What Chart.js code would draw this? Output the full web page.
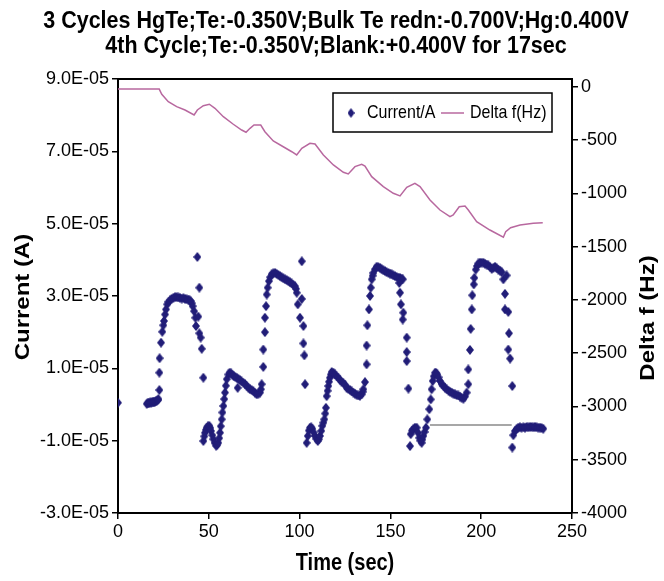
<!DOCTYPE html>
<html><head><meta charset="utf-8">
<script src="https://cdn.jsdelivr.net/npm/chart.js@4/dist/chart.umd.min.js"></script>
<style>html,body{margin:0;padding:0;background:#fff;}#c{display:block}</style>
</head><body>
<canvas id="c" width="664" height="581"></canvas>
<script>
// ---- DATA ----
const titleLines = ["3 Cycles HgTe;Te:-0.350V;Bulk Te redn:-0.700V;Hg:0.400V", "4th Cycle;Te:-0.350V;Blank:+0.400V for 17sec"];
const xTitle = "Time (sec)";
const yTitle = "Current (A)";
const y2Title = "Delta f (Hz)";
const seriesNames = ["Current/A", "Delta f(Hz)"];

const xTicks = [0, 50, 100, 150, 200, 250];
const yTicksE5 = [-3, -1, 1, 3, 5, 7, 9];
const y2Ticks = [-4000, -3500, -3000, -2500, -2000, -1500, -1000, -500, 0];

// Current (units of 1E-05 A)
const currentTime = [0,15.8,16.3,16.8,17.3,17.8,18.3,18.8,19.3,19.8,20.3,20.8,21.3,21.8,22.3,
22.75,22.75,22.9,23.7,24.4,24.96,25.3,25.9,26.4,27.1,27.8,28.6,29.5,30.5,31.4,32.3,33.2,34.1,35.1,36.0,36.9,37.8,38.7,39.4,40.0,40.6,41.1,41.9,42.6,42.95,43.7,44.2,44.8,44.8,45.5,46.1,47.0,
47.0,47.5,47.9,48.4,48.8,49.5,50.3,50.8,51.2,51.9,52.5,53.2,54.0,54.6,55.2,55.7,56.2,56.6,57.1,57.5,58.0,58.5,58.9,59.4,59.9,60.8,
61.5,62.3,63.0,63.8,64.6,65.4,65.9,66.3,67.1,68.0,69.0,69.9,70.8,71.8,72.7,73.6,74.5,75.5,76.4,77.3,78.2,78.7,
79.1,80.0,80.0,80.9,80.9,81.5,81.9,82.4,83.1,83.8,84.6,85.5,86.5,87.4,88.3,89.2,90.1,91.0,92.0,92.9,93.8,94.7,95.6,96.5,97.5,98.0,98.4,99.0,100.2,101.2,101.2,102.1,102.1,102.6,103.0,
103.9,104.5,105.1,105.7,106.4,107.0,107.7,108.5,109.2,110.0,110.6,111.2,111.9,112.5,113.1,113.6,114.1,114.5,114.9,115.4,115.8,116.2,116.7,117.2,117.7,118.6,119.5,120.4,121.3,122.2,123.1,124.0,125.0,125.9,126.8,127.8,128.7,129.6,130.5,131.4,132.3,133.2,134.2,134.7,135.1,136.0,
136.9,136.9,137.3,138.2,138.8,139.2,139.7,140.2,140.6,141.5,142.4,143.3,144.3,145.2,146.1,147.0,147.9,148.9,149.8,150.7,151.6,152.5,153.4,154.4,155.3,156.2,156.8,154.9,155.3,155.8,157.1,156.8,159.0,159.0,159.0,159.9,
160.8,161.2,161.9,162.6,163.5,164.5,165.2,165.9,166.5,167.2,167.6,168.1,168.8,169.6,170.3,171.4,172.2,172.7,173.3,173.9,174.6,175.2,175.8,176.5,177.3,178.2,179.2,180.1,181.0,182.0,182.9,183.8,184.7,185.6,186.5,187.4,188.3,189.2,190.2,191.1,192.0,192.9,
192.9,193.8,194.2,194.8,195.1,195.9,196.2,197.0,197.7,198.4,199.3,200.2,201.2,202.1,203.0,203.9,204.9,205.8,206.7,207.6,208.5,209.4,210.4,211.3,212.2,214.0,213.1,213.1,214.9,215.3,214.9,215.9,217.1,
217.1,217.7,218.6,219.5,220.4,221.3,222.2,223.2,224.1,225.0,225.9,226.9,227.8,228.7,229.6,230.5,231.4,232.4,233.3,234.2];
const currentE5 = [0.05,0.02,0.03,0.05,0.04,0.06,0.05,0.07,0.06,0.08,0.07,0.09,0.10,0.12,0.15,
0.40,0.88,1.28,1.71,2.01,2.19,2.31,2.49,2.63,2.77,2.84,2.88,2.92,2.95,2.97,2.97,2.96,2.95,2.93,2.94,2.92,2.91,2.90,2.88,2.86,2.80,2.72,2.58,2.40,2.17,4.08,2.43,3.23,1.97,1.85,1.54,0.74,
-1.01,-0.88,-0.78,-0.70,-0.64,-0.60,-0.59,-0.65,-0.73,-0.85,-0.96,-1.06,-1.14,-1.12,-1.06,-0.93,-0.78,-0.60,-0.41,-0.22,-0.04,0.15,0.33,0.52,0.70,0.83,
0.88,0.86,0.82,0.78,0.76,0.74,0.46,0.70,0.68,0.64,0.60,0.57,0.52,0.46,0.42,0.40,0.37,0.32,0.28,0.30,0.33,0.42,
0.56,1.04,1.52,2.00,2.40,2.72,3.04,3.23,3.41,3.52,3.60,3.63,3.64,3.61,3.58,3.55,3.52,3.49,3.46,3.44,3.41,3.38,3.35,3.31,3.27,3.20,3.09,2.77,2.40,3.96,2.92,2.17,1.69,1.36,0.56,
-1.06,-0.87,-0.72,-0.64,-0.63,-0.67,-0.77,-0.87,-0.95,-1.01,-0.96,-0.87,-0.73,-0.59,-0.50,-0.41,-0.25,-0.09,0.23,0.38,0.51,0.63,0.74,0.83,0.90,0.88,0.83,0.78,0.74,0.68,0.63,0.60,0.55,0.46,0.43,0.40,0.36,0.33,0.30,0.27,0.25,0.24,0.28,0.35,0.42,0.62,
1.11,1.63,2.19,2.63,3.00,3.23,3.46,3.56,3.64,3.74,3.81,3.80,3.78,3.74,3.71,3.69,3.66,3.64,3.62,3.60,3.57,3.55,3.53,3.51,3.50,3.48,3.46,3.36,3.09,2.77,2.54,2.35,1.85,1.45,1.20,0.44,
-1.15,-0.82,-0.72,-0.68,-0.64,-0.64,-0.78,-0.92,-1.00,-1.06,-0.97,-0.87,-0.76,-0.64,-0.41,-0.13,0.14,0.42,0.65,0.78,0.88,0.87,0.83,0.75,0.65,0.57,0.51,0.46,0.42,0.38,0.35,0.33,0.30,0.28,0.26,0.25,0.22,0.19,0.16,0.22,0.33,0.56,
0.97,1.51,2.09,2.63,3.02,3.32,3.50,3.73,3.83,3.90,3.92,3.92,3.92,3.89,3.87,3.85,3.80,3.75,3.78,3.81,3.77,3.73,3.70,3.66,3.46,3.57,3.06,2.63,2.56,1.97,1.52,1.27,0.51,
-1.19,-0.85,-0.73,-0.68,-0.64,-0.63,-0.64,-0.63,-0.64,-0.62,-0.63,-0.62,-0.62,-0.63,-0.62,-0.63,-0.64,-0.64,-0.65,-0.67];

// Delta f (Hz)
const deltaTime = [0,22.7,24.1,27.7,32.3,36.9,41.9,43.7,47.0,50.3,53.4,58.0,63.5,68.1,70.5,72.7,74.9,78.6,80.9,85.5,91.0,95.7,98.4,101.2,105.7,108.5,113.1,118.6,124.1,126.8,130.5,134.2,136.0,139.7,146.1,151.6,155.3,159.0,163.5,166.3,171.8,177.3,182.8,184.6,187.9,191.1,192.9,197.5,204.8,212.2,213.5,216.2,221.4,228.7,233.9];
const deltaHz = [-20,-20,-69,-138,-185,-216,-263,-216,-176,-162,-200,-279,-350,-404,-425,-388,-357,-357,-420,-507,-561,-608,-638,-576,-529,-535,-638,-732,-801,-817,-748,-726,-742,-842,-936,-998,-1023,-942,-904,-936,-1061,-1155,-1218,-1202,-1124,-1117,-1155,-1265,-1343,-1411,-1359,-1321,-1296,-1280,-1274];

// Grey connecting line (units of 1E-05 A)
const baseTime = [171.8, 216.8];
const baseE5 = [-0.57, -0.57];

// ---- STYLE ----
const NAVY = '#211d78';
const PINK = '#b8689f';
const FONT = '"Liberation Sans", Arial, sans-serif';

function makeDiamond(w, h, color) {
  const c = document.createElement('canvas');
  c.width = w; c.height = h;
  const g = c.getContext('2d');
  g.fillStyle = color;
  g.beginPath();
  g.moveTo(w / 2, 0); g.lineTo(w, h / 2); g.lineTo(w / 2, h); g.lineTo(0, h / 2);
  g.closePath(); g.fill();
  return c;
}
const diamond = makeDiamond(8, 10, NAVY);
const legendDiamond = makeDiamond(7, 10, NAVY);

const currentPts = currentTime.map((t, i) => ({x: t, y: currentE5[i] * 1e-5}));
const deltaPts = deltaTime.map((t, i) => ({x: t, y: deltaHz[i]}));
const basePts = baseTime.map((t, i) => ({x: t, y: baseE5[i] * 1e-5}));

const fmtE = v => (v / 1e-5).toFixed(1) + 'E-05';

function drawText(ctx, text, x, y, font, sx, sy, rot, align) {
  ctx.save();
  ctx.translate(x, y);
  if (rot) ctx.rotate(rot);
  ctx.scale(sx, sy);
  ctx.font = font;
  ctx.textAlign = align || 'center';
  ctx.textBaseline = 'middle';
  ctx.fillText(text, 0, 0);
  ctx.restore();
}

const decor = {
  id: 'decor',
  afterDraw(chart) {
    const ctx = chart.ctx;
    const a = chart.chartArea;
    ctx.save();
    ctx.strokeStyle = '#000'; ctx.lineWidth = 2;
    ctx.beginPath(); ctx.moveTo(a.left - 1, a.top); ctx.lineTo(a.right + 1, a.top); ctx.stroke();
    ctx.fillStyle = '#000';
    drawText(ctx, titleLines[0], 336, 21, 'bold 21.5px ' + FONT, 1, 1.15);
    drawText(ctx, titleLines[1], 336, 46, 'bold 21.5px ' + FONT, 1, 1.15);
    drawText(ctx, xTitle, 345, 564, 'bold 20px ' + FONT, 1, 1.15);
    drawText(ctx, yTitle, 23, 297, 'bold 20px ' + FONT, 1.2, 1, -Math.PI / 2);
    drawText(ctx, y2Title, 648, 318, 'bold 20px ' + FONT, 1.2, 1, -Math.PI / 2);
    // legend
    ctx.lineWidth = 1.5; ctx.strokeStyle = '#000';
    ctx.fillStyle = '#fff';
    ctx.fillRect(333, 93, 219, 39);
    ctx.strokeRect(333, 93, 219, 39);
    ctx.drawImage(legendDiamond, 351 - 3.5, 113 - 5);
    ctx.fillStyle = '#000';
    drawText(ctx, seriesNames[0], 367, 113, '16px ' + FONT, 1, 1.12, 0, 'left');
    ctx.strokeStyle = PINK; ctx.lineWidth = 1.5;
    ctx.beginPath(); ctx.moveTo(441, 113); ctx.lineTo(464, 113); ctx.stroke();
    drawText(ctx, seriesNames[1], 470, 113, '16px ' + FONT, 1, 1.12, 0, 'left');
    ctx.restore();
  }
};

new Chart(document.getElementById('c'), {
  type: 'scatter',
  data: {
    datasets: [
      {label: 'base', data: basePts, yAxisID: 'y', showLine: true, borderColor: '#8a8a8a', borderWidth: 1.5, pointRadius: 0, order: 3},
      {label: seriesNames[0], data: currentPts, yAxisID: 'y', showLine: false, pointStyle: diamond, pointRadius: 4, backgroundColor: NAVY, borderColor: NAVY, order: 2},
      {label: seriesNames[1], data: deltaPts, yAxisID: 'y2', showLine: true, borderColor: PINK, borderWidth: 1.5, pointRadius: 0, tension: 0, order: 1}
    ]
  },
  options: {
    responsive: false,
    animation: false,
    devicePixelRatio: 1,
    layout: {padding: {top: 79, left: 0, right: 0, bottom: 0}},
    plugins: {legend: {display: false}, title: {display: false}, tooltip: {enabled: false}},
    scales: {
      x: {
        type: 'linear', position: 'bottom', min: 0, max: 250,
        afterFit(s) { s.height = 68; },
        afterBuildTicks(s) { s.ticks = xTicks.map(v => ({value: v})); },
        ticks: {color: '#000', font: {size: 18, family: FONT}, padding: 2, maxRotation: 0, autoSkip: false},
        grid: {drawOnChartArea: false, drawTicks: true, tickLength: 6, color: '#000', lineWidth: 1.5},
        border: {display: true, color: '#000', width: 2}
      },
      y: {
        type: 'linear', position: 'left', min: -3e-5, max: 9e-5,
        afterFit(s) { s.width = 118; },
        afterBuildTicks(s) { s.ticks = yTicksE5.map(v => ({value: v * 1e-5})); },
        ticks: {color: '#000', font: {size: 18, family: FONT}, padding: 3, autoSkip: false, callback: v => fmtE(v)},
        grid: {drawOnChartArea: false, drawTicks: true, tickLength: 6, color: '#000', lineWidth: 1.5},
        border: {display: true, color: '#000', width: 2}
      },
      y2: {
        type: 'linear', position: 'right', min: -4000, max: 75,
        afterFit(s) { s.width = 92; },
        afterBuildTicks(s) { s.ticks = y2Ticks.map(v => ({value: v})); },
        ticks: {color: '#000', font: {size: 18, family: FONT}, padding: 3, autoSkip: false, callback: v => String(v)},
        grid: {drawOnChartArea: false, drawTicks: true, tickLength: 6, color: '#000', lineWidth: 1.5},
        border: {display: true, color: '#000', width: 2}
      }
    }
  },
  plugins: [decor]
});
</script>
</body></html>
